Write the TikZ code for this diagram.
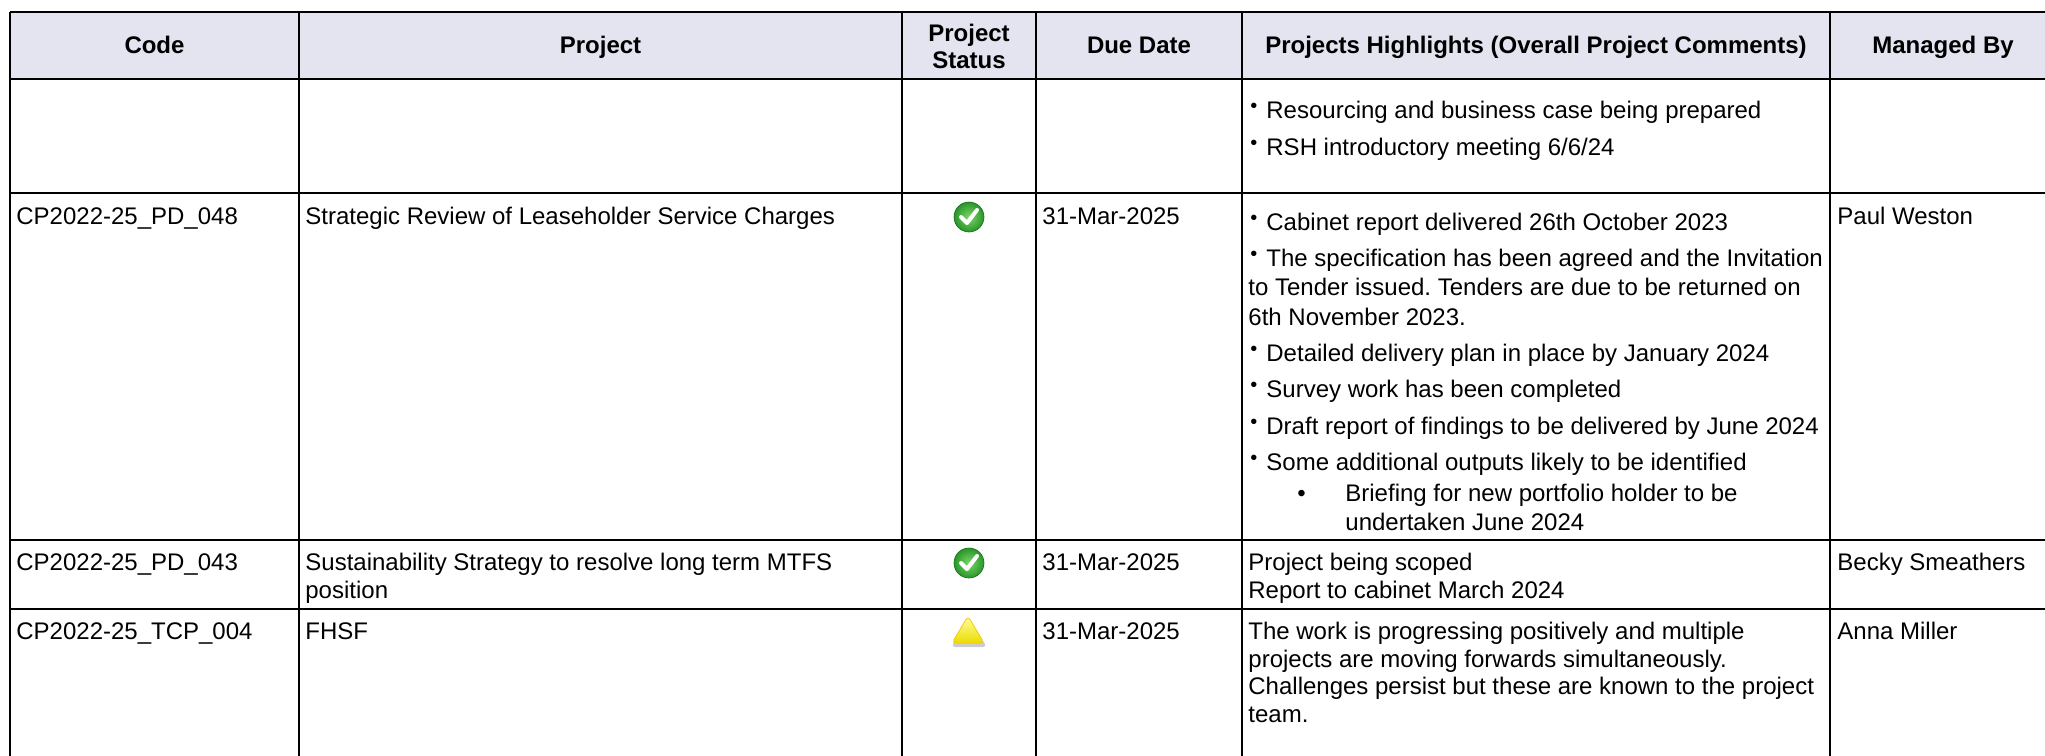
\documentclass[tikz,border=0pt]{standalone}
\usepackage{fontspec}
\setmainfont{Liberation Sans}
\usetikzlibrary{positioning}
\definecolor{hdrfill}{RGB}{228,228,240}
\definecolor{okgreen}{RGB}{40,150,40}
\definecolor{okgreenlt}{RGB}{125,215,105}
\definecolor{warnyel}{RGB}{235,220,0}
\newcommand{\hb}{\raisebox{3pt}{\fontsize{10}{10}\selectfont\textbullet}\hspace{4.5pt}}
\frenchspacing
\begin{document}
\begin{tikzpicture}[x=0.5pt,y=-0.5pt,font=\fontsize{12}{13.8}\selectfont]
\tikzstyle{every node}+=[inner sep=0pt]
\tikzstyle{rule}=[black,line width=1.1pt]
\tikzstyle{cell}=[anchor=base west]
\tikzstyle{head}=[anchor=base,font=\fontsize{12}{13.8}\selectfont\bfseries]
\useasboundingbox (0,0) rectangle (2045,755);
\clip (0,0) rectangle (2045,755);
\fill [hdrfill] (10,12) rectangle (2060,79);
% header row
\draw (154.5,54) node (hcode) [head] {Code};
\draw (600.5,54) node (hproj) [head] {Project};
\draw (969,41) node (hstat) [head] {Project};
\draw (969,68) node (hstatb) [head] {Status};
\draw (1139,54) node (hdue) [head] {Due Date};
\draw (1536,54) node (hhigh) [head] {Projects Highlights (Overall Project Comments)};
\draw (1943,54) node (hman) [head] {Managed By};
% row 1
\draw (1250,118) node (hla) [cell] {\hb Resourcing and business case being prepared};
\draw (1250,155) node (hlb) [cell] {\hb RSH introductory meeting 6/6/24};
% row 2
\draw (16,224.5) node (code48) [cell] {CP2022-25\_PD\_048};
\draw (305,224.5) node (proj48) [cell] {Strategic Review of Leaseholder Service Charges};
\draw (1042,224.5) node (due48) [cell] {31-Mar-2025};
\draw (1250,230) node (hl48a) [cell] {\hb Cabinet report delivered 26th October 2023};
\draw (1250,266) node (hl48b) [cell] {\hb The specification has been agreed and the Invitation};
\draw (1248,295.5) node (hl48c) [cell] {to Tender issued. Tenders are due to be returned on};
\draw (1248,325) node (hl48d) [cell] {6th November 2023.};
\draw (1250,361) node (hl48e) [cell] {\hb Detailed delivery plan in place by January 2024};
\draw (1250,397) node (hl48f) [cell] {\hb Survey work has been completed};
\draw (1250,434) node (hl48g) [cell] {\hb Draft report of findings to be delivered by June 2024};
\draw (1250,470) node (hl48h) [cell] {\hb Some additional outputs likely to be identified};
\draw (1297,501) node (hl48i) [cell] {\textbullet};
\draw (1345,501) node (hl48j) [cell] {Briefing for new portfolio holder to be};
\draw (1345,530) node (hl48k) [cell] {undertaken June 2024};
\draw (1837,224.5) node (man48) [cell] {Paul Weston};
% row 3
\draw (16,570.5) node (code43) [cell] {CP2022-25\_PD\_043};
\draw (305,570.5) node (proj43) [cell] {Sustainability Strategy to resolve long term MTFS};
\draw (305,598) node (proj43b) [cell] {position};
\draw (1042,570.5) node (due43) [cell] {31-Mar-2025};
\draw (1248,570.5) node (hl43a) [cell] {Project being scoped};
\draw (1248,598) node (hl43b) [cell] {Report to cabinet March 2024};
\draw (1837,570.5) node (man43) [cell] {Becky Smeathers};
% row 4
\draw (16,639.5) node (code04) [cell] {CP2022-25\_TCP\_004};
\draw (305,639.5) node (proj04) [cell] {FHSF};
\draw (1042,639.5) node (due04) [cell] {31-Mar-2025};
\draw (1248,639.5) node (hl04a) [cell] {The work is progressing positively and multiple};
\draw (1248,667) node (hl04b) [cell] {projects are moving forwards simultaneously.};
\draw (1248,694.5) node (hl04c) [cell] {Challenges persist but these are known to the project};
\draw (1248,722) node (hl04d) [cell] {team.};
\draw (1837,639.5) node (man04) [cell] {Anna Miller};
% status icons
\foreach \y in {217,563} {
\shade [inner color=okgreenlt, outer color=okgreen] (969,\y) circle (15);
\draw [okgreen!70!black, line width=0.3pt] (969,\y) circle (15);
\draw [white, line width=2pt, line cap=round, line join=round] (961,\y) -- (967,\y+6) -- (977,\y-7);
}
\fill [black!20, rounded corners=2pt] (969,620) -- (987,647) -- (951,647) -- cycle;
\shade [top color=yellow!35!white, bottom color=warnyel, draw=yellow!60!orange, rounded corners=2pt] (968,616) -- (984,643) -- (952,643) -- cycle;
% grid
\foreach \y in {12,193,540,609} \draw [rule] (10,\y) -- (2060,\y);
\draw [rule, line width=1.4pt] (10,79) -- (2060,79);
\foreach \x in {10,299,902,1036,1242,1830} \draw [rule] (\x,12) -- (\x,760);
\end{tikzpicture}
\end{document}
